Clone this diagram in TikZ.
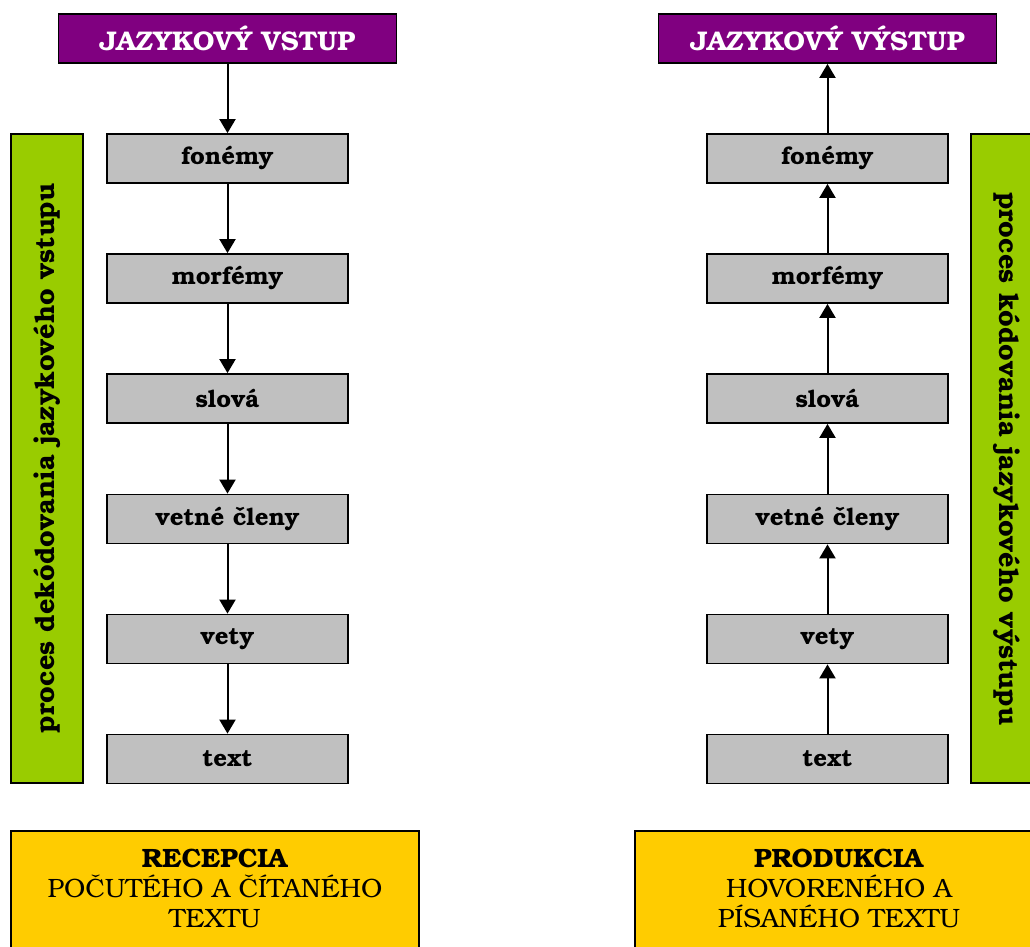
\documentclass[tikz,border=0pt]{standalone}
\usepackage{fontspec}
\setmainfont{TeX Gyre Bonum}
\usetikzlibrary{arrows.meta}

\definecolor{headPurple}{HTML}{800080}
\definecolor{levelGray}{HTML}{C0C0C0}
\definecolor{procGreen}{HTML}{99CC00}
\definecolor{sumYellow}{HTML}{FFCC00}

\providecommand*{\colL}{}
\providecommand*{\colR}{}
\renewcommand*{\colL}{227.5}
\renewcommand*{\colR}{827.5}

\tikzset{
  head/.style={draw,line width=1.8pt,fill=headPurple,text=white,
    minimum width=338pt,minimum height=49pt,inner sep=0pt,
    font=\fontsize{27}{31}\selectfont\bfseries},
  level/.style={draw,line width=1.8pt,fill=levelGray,
    minimum width=241pt,minimum height=49pt,inner sep=0pt,
    font=\fontsize{24}{28}\selectfont\bfseries},
  procbar/.style={draw,line width=1.8pt,fill=procGreen,
    minimum width=72pt,minimum height=649pt,inner sep=0pt},
  proctext/.style={font=\fontsize{27}{31}\selectfont\bfseries},
  sumbox/.style={draw,line width=1.8pt,fill=sumYellow,
    minimum width=408pt,minimum height=130pt,inner sep=0pt},
  summary/.style={align=center,inner sep=0pt,
    font=\fontsize{26.5}{30}\selectfont},
  flow/.style={line width=2pt,-{Triangle[length=14pt,width=16pt]}}
}

\begin{document}
\begin{tikzpicture}[x=1pt,y=-1pt]
  \clip (0,0) rectangle (1030,947);
  \fill[white] (0,0) rectangle (1030,947);

%input side
  \node[head] (inHead) at (\colL,38.5) {JAZYKOVÝ VSTUP};
  \node[level] (inFon) at (\colL,158.5) {fonémy};
  \node[level] (inMorf) at (\colL,278.5) {morfémy};
  \node[level] (inSlov) at (\colL,398.5) {slová};
  \node[level] (inClen) at (\colL,519) {vetné členy};
  \node[level] (inVety) at (\colL,639) {vety};
  \node[level] (inText) at (\colL,759) {text};

  \draw[flow] (inHead) -- (inFon);
  \draw[flow] (inFon) -- (inMorf);
  \draw[flow] (inMorf) -- (inSlov);
  \draw[flow] (inSlov) -- (inClen);
  \draw[flow] (inClen) -- (inVety);
  \draw[flow] (inVety) -- (inText);

%output side
  \node[head] (outHead) at (\colR,38.5) {JAZYKOVÝ VÝSTUP};
  \node[level] (outFon) at (\colR,158.5) {fonémy};
  \node[level] (outMorf) at (\colR,278.5) {morfémy};
  \node[level] (outSlov) at (\colR,398.5) {slová};
  \node[level] (outClen) at (\colR,519) {vetné členy};
  \node[level] (outVety) at (\colR,639) {vety};
  \node[level] (outText) at (\colR,759) {text};

  \draw[flow] (outText) -- (outVety);
  \draw[flow] (outVety) -- (outClen);
  \draw[flow] (outClen) -- (outSlov);
  \draw[flow] (outSlov) -- (outMorf);
  \draw[flow] (outMorf) -- (outFon);
  \draw[flow] (outFon) -- (outHead);

%process bars
  \node[procbar] (decBar) at (47,458.5) {};
  \node[proctext,rotate=90] (decText) at (decBar.center)
    {proces dekódovania jazykového vstupu};
  \node[procbar] (encBar) at (1007,458.5) {};
  \node[proctext,rotate=-90] (encText) at (encBar.center)
    {proces kódovania jazykového výstupu};

%summaries
  \node[sumbox] (recepBox) at (215,896) {};
  \node[summary] (recep) at (215,888) {\textbf{RECEPCIA}\\POČUTÉHO A ČÍTANÉHO\\TEXTU};
  \node[sumbox] (produkBox) at (839,896) {};
  \node[summary] (produk) at (839,888) {\textbf{PRODUKCIA}\\HOVORENÉHO A\\PÍSANÉHO TEXTU};
\end{tikzpicture}
\end{document}
